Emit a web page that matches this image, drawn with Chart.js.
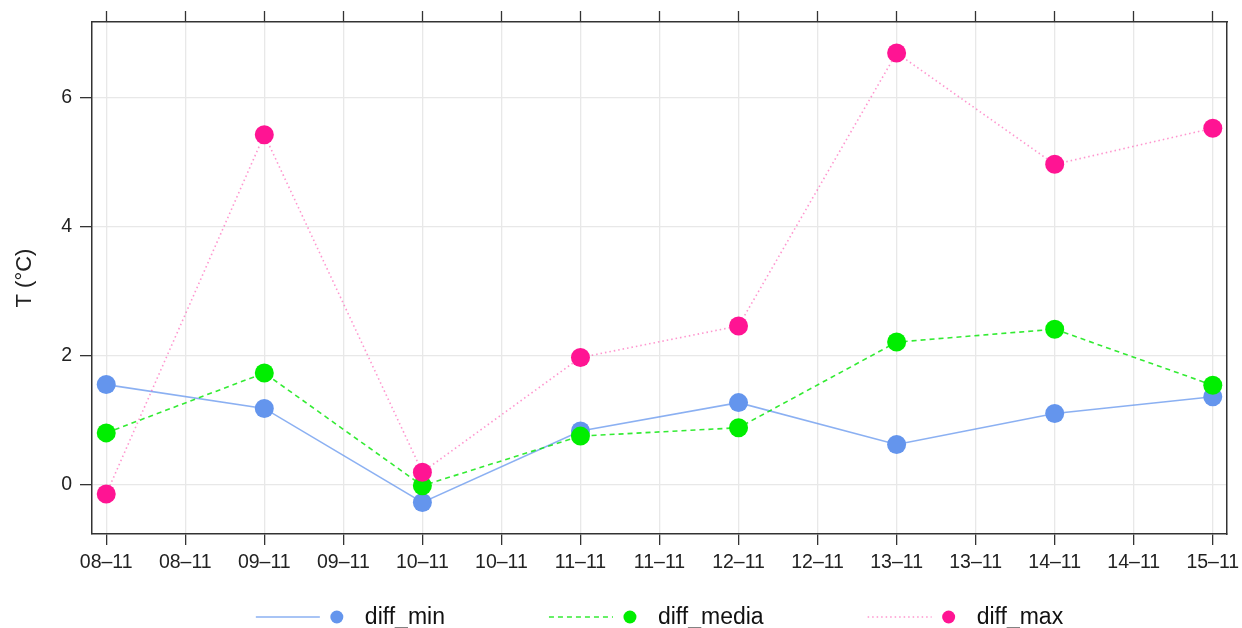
<!DOCTYPE html>
<html>
<head>
<meta charset="utf-8">
<script src="https://cdn.jsdelivr.net/npm/chart.js@4/dist/chart.umd.min.js"></script>
<style>
  html, body { margin: 0; padding: 0; background: #fff; }
  #wrap { width: 1242px; height: 628px; }
</style>
</head>
<body>
<div id="wrap"><canvas id="chart" width="1242" height="628"></canvas></div>
<script>
const FONT = '"Liberation Sans", Arial, Helvetica, sans-serif'

// tick labels along x (one every half day)
const tickLabels = ['08–11', '08–11', '09–11', '09–11', '10–11', '10–11', '11–11', '11–11',
                    '12–11', '12–11', '13–11', '13–11', '14–11', '14–11', '15–11']
// one observation per day, placed on every second tick
const dayPos    = [0, 2, 4, 6, 8, 10, 12, 14]
const diffMin   = [1.55, 1.18, -0.28, 0.83, 1.27, 0.62, 1.10, 1.36]
const diffMedia = [0.80, 1.73, -0.02, 0.75, 0.88, 2.21, 2.41, 1.54]
const diffMax   = [-0.15, 5.43, 0.19, 1.97, 2.46, 6.70, 4.97, 5.53]
const yTicks    = [0, 2, 4, 6]

const SERIES = [
  { name: 'diff_min',   data: diffMin,   dot: '#6495ED', line: 'rgba(100,149,237,0.75)', dash: [],     width: 1.6, order: 3 },
  { name: 'diff_media', data: diffMedia, dot: '#00EE00', line: 'rgba(0,230,0,0.8)',      dash: [5, 4], width: 1.6, order: 2 },
  { name: 'diff_max',   data: diffMax,   dot: '#FF1493', line: 'rgba(255,20,147,0.45)',  dash: [1.5, 3], width: 1.6, order: 1 }
]

const AXIS = '#333333'
const GRID = '#e8e8e8'

const legendPlugin = {
  id: 'bottomLegend',
  afterDraw(chart) {
    const ctx = chart.ctx
    const area = chart.chartArea
    const y = 617
    const lineLen = 64, dotOff = 81, textOff = 109, gap = 104
    ctx.save()
    ctx.font = '23px ' + FONT
    const widths = SERIES.map(s => textOff + ctx.measureText(s.name).width)
    const total = widths.reduce((a, b) => a + b, 0) + gap * (SERIES.length - 1)
    let x = (area.left + area.right) / 2 - total / 2
    SERIES.forEach((s, i) => {
      ctx.strokeStyle = s.line
      ctx.lineWidth = s.width
      ctx.setLineDash(s.dash)
      ctx.beginPath()
      ctx.moveTo(x, y)
      ctx.lineTo(x + lineLen, y)
      ctx.stroke()
      ctx.setLineDash([])
      ctx.fillStyle = s.dot
      ctx.beginPath()
      ctx.arc(x + dotOff, y, 6.5, 0, Math.PI * 2)
      ctx.fill()
      ctx.fillStyle = '#111'
      ctx.textBaseline = 'middle'
      ctx.textAlign = 'left'
      ctx.fillText(s.name, x + textOff, y + 1)
      x += widths[i] + gap
    })
    ctx.restore()
  }
}

const xTicks = scale => { scale.ticks = tickLabels.map((_, i) => ({ value: i })) }
const fitX = h => s => { s.height = h; s.paddingLeft = 0; s.paddingRight = 0 }

new Chart(document.getElementById('chart'), {
  type: 'line',
  data: {
    datasets: SERIES.map(s => ({
      label: s.name,
      data: s.data.map((v, i) => ({ x: dayPos[i], y: v })),
      borderColor: s.line,
      borderWidth: s.width,
      borderDash: s.dash,
      backgroundColor: s.dot,
      pointBackgroundColor: s.dot,
      pointBorderWidth: 0,
      pointRadius: 9.5,
      tension: 0,
      fill: false,
      order: s.order
    }))
  },
  options: {
    responsive: false,
    animation: false,
    devicePixelRatio: 1,
    layout: { padding: 0 },
    plugins: { legend: { display: false }, tooltip: { enabled: false } },
    scales: {
      x: {
        type: 'linear',
        position: 'bottom',
        min: -0.18,
        max: 14.18,
        afterBuildTicks: xTicks,
        afterFit: fitX(94),
        ticks: {
          autoSkip: false, maxRotation: 0, padding: 6, color: '#222',
          font: { family: FONT, size: 19.5 },
          callback: v => tickLabels[v] ?? ''
        },
        grid: { color: GRID, lineWidth: 1.3, tickColor: AXIS, tickLength: 11, tickWidth: 1.3 },
        border: { display: true, color: AXIS, width: 1.5 }
      },
      xTop: {
        type: 'linear',
        position: 'top',
        min: -0.18,
        max: 14.18,
        afterBuildTicks: xTicks,
        afterFit: fitX(22),
        ticks: { display: false },
        grid: { drawOnChartArea: false, tickColor: AXIS, tickLength: 11, tickWidth: 1.3 },
        border: { display: true, color: AXIS, width: 1.5 }
      },
      y: {
        type: 'linear',
        position: 'left',
        min: -0.77,
        max: 7.18,
        afterBuildTicks: s => { s.ticks = yTicks.map(v => ({ value: v })) },
        afterFit: s => { s.width = 92 },
        ticks: { padding: 8, color: '#222', font: { family: FONT, size: 19.5 } },
        grid: { color: GRID, lineWidth: 1.3, tickColor: AXIS, tickLength: 12, tickWidth: 1.3 },
        border: { display: true, color: AXIS, width: 1.5 },
        title: { display: true, text: 'T (°C)', color: '#222', font: { family: FONT, size: 22 }, padding: { top: 12, bottom: 0 } }
      },
      yRight: {
        type: 'linear',
        position: 'right',
        min: -0.77,
        max: 7.18,
        afterFit: s => { s.width = 15 },
        ticks: { display: false },
        grid: { drawOnChartArea: false, drawTicks: false },
        border: { display: true, color: AXIS, width: 1.5 }
      }
    }
  },
  plugins: [legendPlugin]
})
</script>
</body>
</html>
